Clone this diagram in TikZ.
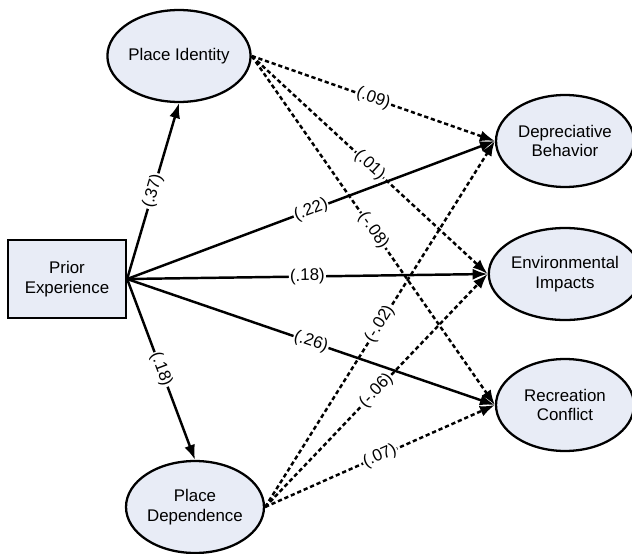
\documentclass[tikz,border=0pt]{standalone}
\usepackage{fontspec}
\setmainfont{Liberation Sans}
\usepackage{xcolor}
\usetikzlibrary{shapes.geometric,arrows.meta}

\definecolor{latentfill}{HTML}{E8ECF6}

\tikzset{
	latent/.style={ellipse, draw, line width=1.3pt, fill=latentfill, align=center,
		minimum width=2.76cm, minimum height=1.84cm, inner sep=0pt},
	observed/.style={rectangle, draw, line width=1.3pt, fill=latentfill, align=center,
		minimum width=2.36cm, minimum height=1.56cm, inner sep=0pt},
	path/.style={line width=1.4pt, -{Latex[length=3mm, width=2.2mm]}},
	nopath/.style={path, dash pattern=on 2.4pt off 1.6pt},
	coef/.style={midway, sloped, fill=white, inner sep=0.6pt, font=\fontsize{9.6}{10}\selectfont}
}

\begin{document}
\begin{tikzpicture}[x=0.02cm, y=-0.02cm, font=\fontsize{9.6}{11.2}\selectfont]
		\useasboundingbox (0,0) rectangle (632,554);
		
		% draw the exogenous and mediating variables
		\node[observed] (prior) at (67,279) {Prior\\Experience};
		\node[latent] (identity) at (179,56) {Place Identity};
		\node[latent] (dependence) at (195,507) {Place\\Dependence};
		
		% draw the outcome variables
		\node[latent] (depreciative) at (565,141) {Depreciative\\Behavior};
		\node[latent] (impacts) at (565,274) {Environmental\\Impacts};
		\node[latent] (conflict) at (565,405) {Recreation\\Conflict};
		
		% draw the significant paths
		\draw[path] (prior.east) -- (identity.south) node[coef] {(.37)};
		\draw[path] (prior.east) -- (dependence.north) node[coef] {(.18)};
		\draw[path] (prior.east) -- (depreciative.west) node[coef] {(.22)};
		\draw[path] (prior.east) -- (impacts.west) node[coef] {(.18)};
		\draw[path] (prior.east) -- (conflict.west) node[coef] {(.26)};
		
		% draw the non significant paths
		\draw[nopath] (identity.east) -- (depreciative.west) node[coef] {(.09)};
		\draw[nopath] (identity.east) -- (impacts.west) node[coef] {(.01)};
		\draw[nopath] (identity.east) -- (conflict.west) node[coef] {(-.08)};
		\draw[nopath] (dependence.east) -- (depreciative.west) node[coef] {(-.02)};
		\draw[nopath] (dependence.east) -- (impacts.west) node[coef] {(-.06)};
		\draw[nopath] (dependence.east) -- (conflict.west) node[coef] {(.07)};
\end{tikzpicture}
\end{document}
